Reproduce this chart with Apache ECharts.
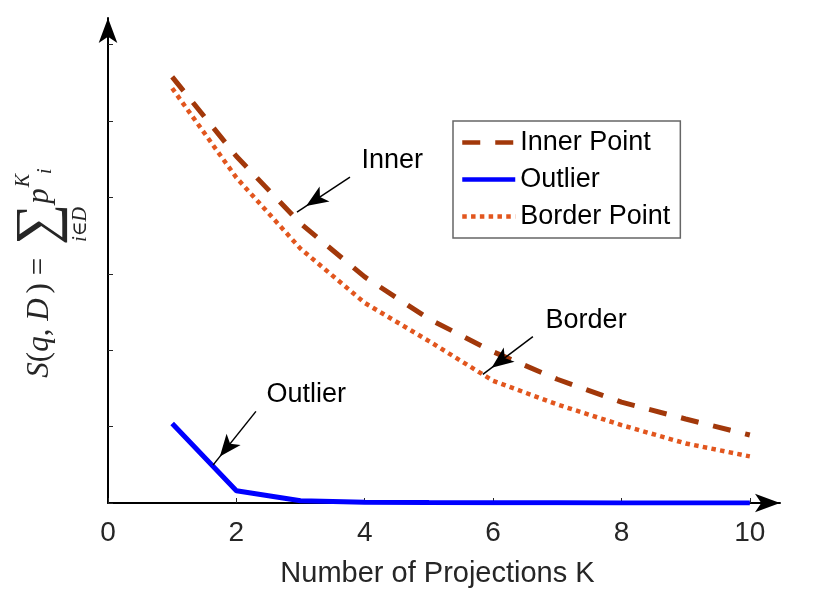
<!DOCTYPE html>
<html>
<head>
<meta charset="utf-8">
<script src="https://cdn.jsdelivr.net/npm/echarts@6/dist/echarts.min.js"></script>
<style>
html,body{margin:0;padding:0;background:#fff;}
#chart{width:830px;height:593px;}
</style>
</head>
<body>
<div id="chart"></div>
<script>
// ---- data ----
const projections = [1, 2, 3, 4, 5, 6, 7, 8, 9, 10];
const innerPoint  = [5.58, 4.54, 3.66, 2.96, 2.41, 1.98, 1.62, 1.32, 1.10, 0.89];
const outlier     = [1.04, 0.16, 0.03, 0.01, 0.005, 0.003, 0.002, 0.001, 0.001, 0.0];
const borderPoint = [5.43, 4.26, 3.33, 2.62, 2.12, 1.60, 1.29, 1.02, 0.78, 0.61];
const xTickLabels = [0, 2, 4, 6, 8, 10];
const yTickValues = [0, 1, 2, 3, 4, 5, 6];
const seriesNames = ['Inner Point', 'Outlier', 'Border Point'];
// annotations (data coordinates)
const noteTexts  = ['Inner', 'Border', 'Outlier'];
const noteAt     = [[3.94, 4.48], [6.81, 2.39], [2.46, 1.415]];
const arrowFrom  = [[3.77, 4.265], [6.62, 2.178], [2.305, 1.20]];
const arrowTo    = [[2.944, 3.809], [5.84, 1.683], [1.636, 0.496]];

const toPairs = ys => projections.map((x, i) => [x, ys[i]]);

const sans = 'Liberation Sans, Arial, Helvetica, sans-serif';
const serif = 'Liberation Serif, DejaVu Serif, serif';

// measure text to stack the sum subscript under the sigma
const mctx = document.createElement('canvas').getContext('2d');
function tw(text, size, italic) {
  mctx.font = (italic ? 'italic ' : '') + size + 'px ' + serif;
  return mctx.measureText(text).width;
}
const MAIN = 31, SUM = 58, SMALL = 20;
const EQ_PAD = 5;
const wMain = tw('S', MAIN, true) + tw('(', MAIN) + tw('q', MAIN, true) + tw(', ', MAIN) +
              tw('D', MAIN, true) + tw(') = ', MAIN) + 2 * EQ_PAD;
const wSum = tw('\u2211', SUM);
const wSub = tw('i\u2208D', SMALL, true);
const subLeft = Math.max(0, wMain + (wSum - wSub) / 2);

const yName = '{it|S}{rm|(}{it|q}{rm|, }{it|D}{eq|) = }{sum|\u2211}{it|p}{sup|K}{sub2|i}\n{subl|i\u2208D}';

const L1 = 50, L2 = 30;
const col = '#262626';

const chart = echarts.init(document.getElementById('chart'), null, {renderer: 'canvas'});

const option = {
  animation: false,
  backgroundColor: '#ffffff',
  grid: {left: 108, right: 50, top: 18, bottom: 88, containLabel: false},
  legend: {
    data: seriesNames,
    orient: 'vertical',
    left: 453,
    top: 121,
    itemWidth: 53,
    itemHeight: 20,
    itemGap: 10,
    padding: [8, 10, 8, 7],
    borderColor: '#666666',
    borderWidth: 1.5,
    backgroundColor: '#ffffff',
    selectedMode: false,
    itemStyle: {opacity: 0, borderWidth: 0},
    lineStyle: {width: 4.5},
    textStyle: {fontFamily: sans, fontSize: 27, color: '#000000'}
  },
  xAxis: {
    type: 'value',
    min: 0,
    max: 10.47,
    interval: 2,
    name: 'Number of Projections K',
    nameLocation: 'middle',
    nameGap: 56,
    nameTextStyle: {fontFamily: sans, fontSize: 29, color: col, padding: [0, 13, 0, 0]},
    axisLine: {show: true, lineStyle: {color: '#000000', width: 2}, symbol: ['none', 'arrow'], symbolSize: [14, 25]},
    axisTick: {show: true, inside: true, length: 5, customValues: xTickLabels, lineStyle: {color: col, width: 1}},
    axisLabel: {
      show: true, margin: 16, fontFamily: sans, fontSize: 28, color: col,
      customValues: xTickLabels,
      formatter: v => String(v)
    },
    splitLine: {show: false}
  },
  yAxis: {
    type: 'value',
    min: 0,
    max: 6.35,
    interval: 1,
    name: yName,
    nameLocation: 'middle',
    nameGap: 17,
    nameTextStyle: {
      fontFamily: serif, fontSize: MAIN, color: col,
      rich: {
        it:  {fontFamily: serif, fontStyle: 'italic', fontSize: MAIN, lineHeight: L1, verticalAlign: 'top', padding: [13, 0, 0, 0], color: col},
        rm:  {fontFamily: serif, fontSize: MAIN, lineHeight: L1, verticalAlign: 'top', padding: [13, 0, 0, 0], color: col},
        eq:  {fontFamily: serif, fontSize: MAIN, lineHeight: L1, verticalAlign: 'top', padding: [13, EQ_PAD, 0, EQ_PAD], color: col},
        sum: {fontFamily: serif, fontSize: SUM, lineHeight: L1, verticalAlign: 'top', padding: [0, 0, 0, 0], color: col},
        sup: {fontFamily: serif, fontStyle: 'italic', fontSize: SMALL, lineHeight: L1, verticalAlign: 'top', padding: [3, 0, 0, 1], color: col},
        sub2:{fontFamily: serif, fontStyle: 'italic', fontSize: SMALL, lineHeight: L1, verticalAlign: 'top', padding: [25, 25, 0, 0], color: col},
        subl:{fontFamily: serif, fontStyle: 'italic', fontSize: SMALL, lineHeight: L2, verticalAlign: 'top', align: 'left', padding: [10, 0, 0, subLeft], color: col}
      }
    },
    axisLine: {show: true, lineStyle: {color: '#000000', width: 2}, symbol: ['none', 'arrow'], symbolSize: [14, 25]},
    axisTick: {show: true, inside: true, length: 5, customValues: yTickValues, lineStyle: {color: col, width: 1}},
    axisLabel: {show: false},
    splitLine: {show: false}
  },
  series: [
    {
      name: seriesNames[0],
      type: 'line',
      data: toPairs(innerPoint),
      symbol: 'none',
      color: '#A2380A',
      lineStyle: {color: '#A2380A', width: 5, type: [18, 15], cap: 'butt'},
      z: 3,
      markLine: {
        silent: true,
        symbol: ['none', 'arrow'],
        symbolSize: [13.5, 22],
        symbolOffset: [0, [0, '50%']],
        label: {show: false},
        itemStyle: {color: '#000000'},
        lineStyle: {color: '#000000', width: 1.5, type: 'solid'},
        emphasis: {disabled: true},
        data: arrowFrom.map((p, i) => [{coord: p}, {coord: arrowTo[i]}])
      },
      markPoint: {
        silent: true,
        symbol: 'circle',
        symbolSize: 1,
        itemStyle: {color: 'rgba(0,0,0,0)'},
        label: {show: true, position: 'right', distance: 0, fontFamily: sans, fontSize: 27, color: '#000000',
                formatter: p => p.name},
        data: noteAt.map((p, i) => ({name: noteTexts[i], coord: p}))
      }
    },
    {
      name: seriesNames[1],
      type: 'line',
      data: toPairs(outlier),
      symbol: 'none',
      color: '#0000FF',
      lineStyle: {color: '#0000FF', width: 5, type: 'solid'},
      z: 4
    },
    {
      name: seriesNames[2],
      type: 'line',
      data: toPairs(borderPoint),
      symbol: 'none',
      color: '#E2561E',
      lineStyle: {color: '#E2561E', width: 4.5, type: [4.5, 4.3], cap: 'butt'},
      z: 3
    }
  ]
};
chart.setOption(option);
</script>
</body>
</html>
